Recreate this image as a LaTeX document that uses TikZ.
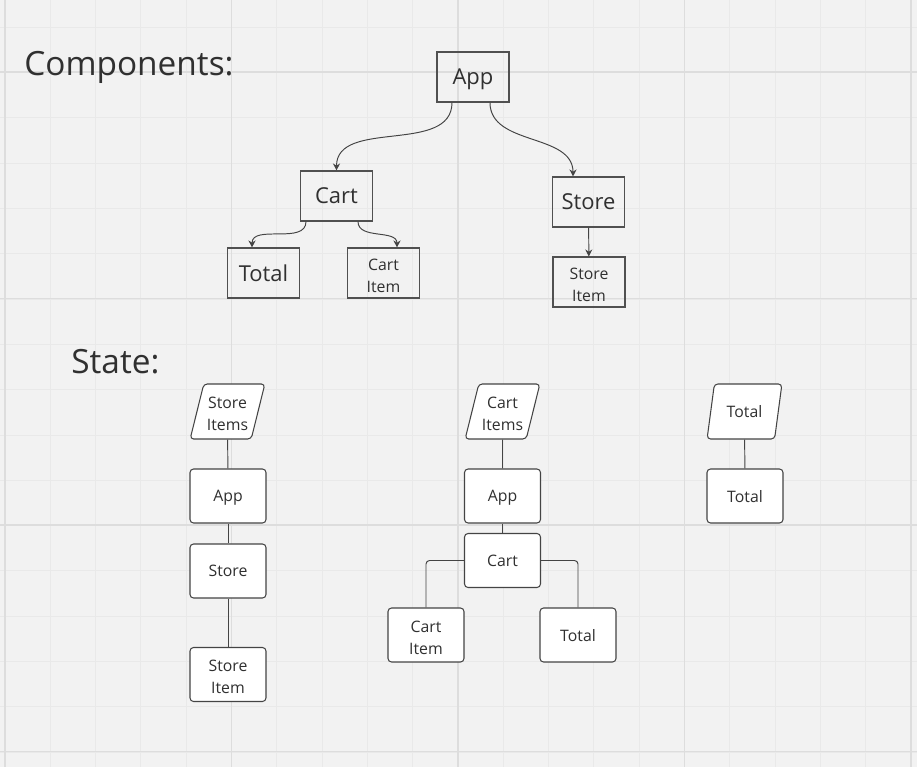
\documentclass[tikz,border=0pt]{standalone}
\usepackage{fontspec}
\setmainfont{Open Sans}
\usetikzlibrary{shapes.geometric, arrows.meta}
\definecolor{boardbg}{HTML}{F2F2F2}
\definecolor{gridminor}{HTML}{E9E9E9}
\definecolor{gridmajor}{HTML}{DDDDDD}
\definecolor{inkline}{HTML}{444444}
\definecolor{compline}{HTML}{505050}
\definecolor{inktext}{HTML}{303030}

\tikzset{
  comp/.style={draw=compline, line width=0.6pt, rectangle, minimum width=1.44cm, minimum height=1cm, text=inktext, font=\fontsize{12.5}{15}\selectfont, inner sep=1pt, text depth=0pt},
  compsmall/.style={comp, font=\fontsize{9}{12.5}\selectfont, align=center, twoline},
  statebox/.style={draw=inkline, fill=white, line width=0.6pt, rounded corners=2pt, minimum width=1.52cm, minimum height=1.08cm, text=inktext, font=\fontsize{9}{12.5}\selectfont, align=center, inner sep=1pt, text depth=0pt},
  statedata/.style={statebox, trapezium, trapezium left angle=73, trapezium right angle=107, trapezium stretches=true, minimum width=1.5cm, minimum height=1.1cm},
  twoline/.style={execute at begin node={\rule{0pt}{21.9pt}}},
  childof/.style={draw=inkline, line width=0.55pt, -{Stealth[length=4pt,width=4pt]}},
  holds/.style={draw=inkline, line width=0.55pt},
  heading/.style={anchor=base west, text=inktext, font=\fontsize{19}{23}\selectfont, inner sep=0pt}
}

\begin{document}
\begin{tikzpicture}[x=0.02cm, y=-0.02cm]
    \useasboundingbox (0,0) rectangle (917,767);

    % board with grid
    \fill[boardbg] (0,0) rectangle (917,767);
    \foreach \gx in {0,...,20} \draw[gridminor, line width=0.55pt] ({5+45.3*\gx},0) -- ++(0,767);
    \foreach \gy in {0,...,16} \draw[gridminor, line width=0.55pt] (0,{27.3+45.3*\gy}) -- ++(917,0);
    \foreach \gx in {0,...,4} \draw[gridmajor, line width=0.75pt] ({5+226.5*\gx},0) -- ++(0,767);
    \foreach \gy in {0,...,3} \draw[gridmajor, line width=0.75pt] (0,{72+226.5*\gy}) -- ++(917,0);

    % Components tree
    \node[heading] (comptitle) at (24,76) {Components:};
    \node[comp] (app) at (473,77) {App};
    \node[comp] (cart) at (336.5,196) {Cart};
    \node[comp] (store) at (588.5,202) {Store};
    \node[comp] (total) at (263.5,273) {Total};
    \node[compsmall] (cartitem) at (383.5,273) {Cart\\Item};
    \node[compsmall] (storeitem) at (589,282) {Store\\Item};

    \draw[childof] ([xshift=-0.42cm]app.south) to[out=-90,in=90] (cart.north);
    \draw[childof] ([xshift=0.34cm]app.south) to[out=-90,in=90] ([xshift=-0.31cm]store.north);
    \draw[childof] ([xshift=-0.61cm]cart.south) to[out=-90,in=90] ([xshift=-0.23cm]total.north);
    \draw[childof] ([xshift=0.43cm]cart.south) to[out=-90,in=90] ([xshift=0.27cm]cartitem.north);
    \draw[childof] (store) -- (storeitem);

    % State: store items
    \node[heading] (statetitle) at (71,373) {State:};
    \node[statedata, twoline] (storeitems) at (227.5,411.5) {Store\\Items};
    \node[statebox] (sapp) at (228,496) {App};
    \node[statebox] (sstore) at (228,571) {Store};
    \node[statebox, twoline] (sstoreitem) at (228,674.5) {Store\\Item};
    \draw[holds] (storeitems) -- (sapp);
    \draw[holds] (sapp) -- (sstore);
    \draw[holds] (sstore) -- (sstoreitem);

    % State: cart items
    \node[statedata, twoline] (cartitems) at (502.5,411.5) {Cart\\Items};
    \node[statebox] (capp) at (502.5,496) {App};
    \node[statebox] (ccart) at (502.5,560.5) {Cart};
    \node[statebox, twoline] (ccartitem) at (426,635) {Cart\\Item};
    \node[statebox] (ctotal) at (578,635) {Total};
    \draw[holds] (cartitems) -- (capp);
    \draw[holds] (capp) -- (ccart);
    \draw[holds, rounded corners=2pt] (ccart.west) -| (ccartitem.north);
    \draw[holds, rounded corners=2pt] (ccart.east) -| (ctotal.north);

    % State: total
    \node[statedata] (totaldata) at (744.5,411.5) {Total};
    \node[statebox] (ttotal) at (745,496) {Total};
    \draw[holds] (totaldata) -- (ttotal);
\end{tikzpicture}
\end{document}
